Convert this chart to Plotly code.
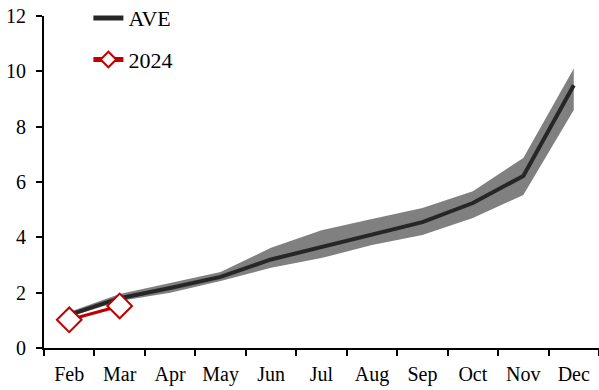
import plotly.graph_objects as go

months = ["Feb", "Mar", "Apr", "May", "Jun", "Jul", "Aug", "Sep", "Oct", "Nov", "Dec"]
ave = [1.2, 1.8, 2.17, 2.57, 3.2, 3.65, 4.12, 4.55, 5.24, 6.22, 9.5]
band_hi = [1.3, 1.95, 2.35, 2.75, 3.62, 4.26, 4.66, 5.06, 5.67, 6.87, 10.1]
band_lo = [1.12, 1.7, 2.0, 2.42, 2.9, 3.25, 3.72, 4.08, 4.70, 5.53, 8.6]
months_2024 = ["Feb", "Mar"]
val_2024 = [1.02, 1.52]
y_ticks = [0, 2, 4, 6, 8, 10, 12]

font_family = "Liberation Serif, Times New Roman, serif"

fig = go.Figure()
fig.add_trace(go.Scatter(x=months, y=band_lo, mode="lines", line=dict(width=0, color="#808080"),
                         showlegend=False, hoverinfo="skip"))
fig.add_trace(go.Scatter(x=months, y=band_hi, mode="lines", line=dict(width=0, color="#808080"),
                         fill="tonexty", fillcolor="#808080", showlegend=False, hoverinfo="skip"))
fig.add_trace(go.Scatter(x=months, y=ave, mode="lines", name="AVE",
                         line=dict(color="#262626", width=4), legendgroup="a"))
fig.add_trace(go.Scatter(x=months_2024, y=val_2024, mode="lines+markers", name="2024",
                         line=dict(color="#C00000", width=3),
                         marker=dict(symbol="diamond", size=19, color="white",
                                     line=dict(color="#C00000", width=2)),
                         legendgroup="b"))

fig.update_layout(
    width=599, height=390,
    margin=dict(l=44, r=0, t=16, b=42, autoexpand=False),
    plot_bgcolor="white", paper_bgcolor="white",
    font=dict(family=font_family, size=20, color="black"),
    showlegend=True,
    legend=dict(x=0.08, y=1.057, xanchor="left", yanchor="top", bgcolor="rgba(0,0,0,0)",
                font=dict(size=22), tracegroupgap=10, traceorder="grouped", itemsizing="constant"),
    xaxis=dict(type="category", categoryorder="array", categoryarray=months,
               range=[-0.5, 10.5], tickson="boundaries", ticks="outside", ticklen=6, tickwidth=2,
               tickcolor="black", showline=True, linecolor="black", linewidth=2,
               showgrid=False, zeroline=False, automargin=False, ticklabelstandoff=7),
    yaxis=dict(range=[0, 12], tickvals=y_ticks, ticks="outside", ticklen=6, tickwidth=2,
               tickcolor="black", showline=True, linecolor="black", linewidth=2,
               showgrid=False, zeroline=False, automargin=False, ticklabelstandoff=6),
)

fig.write_html("out.html", config={"displayModeBar": False},
               post_script="document.body.style.margin='0';document.body.style.overflow='hidden';")
